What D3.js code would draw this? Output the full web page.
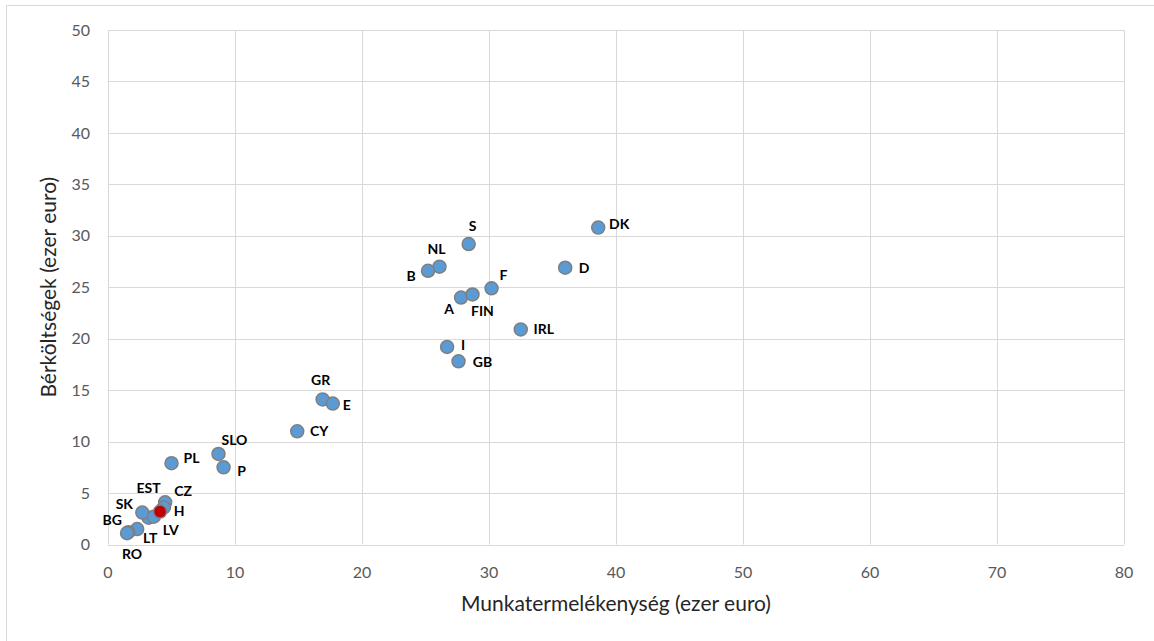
<!DOCTYPE html>
<html>
<head>
<meta charset="utf-8">
<script src="https://cdn.jsdelivr.net/npm/d3@7"></script>
<style>
  body { margin: 0; background: #fff; }
  svg text { font-family: Lato, "Open Sans", sans-serif; }
  .grid line { stroke: #d9d9d9; stroke-width: 1; }
  .tick-label { fill: #595959; font-size: 16px; }
  .axis-title { fill: #262626; font-size: 21px; }
  .pt-label { fill: #000; font-size: 14px; font-weight: bold; }
</style>
</head>
<body>
<div id="chart"></div>
<script>
const width = 1154,
  height = 641,
  margin = { top: 30, bottom: 96.5, left: 108, right: 30 },
  radius = 6.5;

// country codes, labour productivity (x) and labour costs (y), thousand euro
const countries = ["DK", "D", "S", "NL", "B", "F", "A", "FIN", "IRL", "I", "GB",
  "GR", "E", "CY", "SLO", "P", "PL", "CZ", "", "EST", "LV", "SK", "LT", "BG", "RO", "H"];
const productivity = [38.6, 36.0, 28.4, 26.1, 25.2, 30.2, 27.8, 28.7, 32.5, 26.7, 27.6,
  16.9, 17.7, 14.9, 8.7, 9.1, 5.0, 4.5, 4.4, 3.2, 3.6, 2.7, 2.3, 1.6, 1.5, 4.1];
const laborCost = [30.8, 26.9, 29.2, 27.0, 26.6, 24.9, 24.0, 24.3, 20.9, 19.2, 17.8,
  14.1, 13.7, 11.0, 8.8, 7.5, 7.9, 4.1, 3.6, 2.6, 2.7, 3.1, 1.5, 1.2, 1.1, 3.2];
const highlighted = ["H"];

const xTicks = [0, 10, 20, 30, 40, 50, 60, 70, 80];
const yTicks = [0, 5, 10, 15, 20, 25, 30, 35, 40, 45, 50];

// label centre relative to the marker (px)
const labelOffset = {
  DK: [21, -3], D: [19, 0], S: [4, -18], NL: [-3, -18], B: [-17, 5],
  F: [12, -13], A: [-12, 12], FIN: [10, 17], IRL: [23, 0], I: [16, -2], GB: [24, 1],
  GR: [-2, -19], E: [14, 2], CY: [22, 0], SLO: [16, -14], P: [18, 4], PL: [20, -5],
  CZ: [18, -11], EST: [0, -30], LV: [17, 13], SK: [-18, -9], LT: [13, 9],
  BG: [-16, -12], RO: [5, 21], H: [19, 0]
};

const points = countries.map((c, i) => ({
  name: c, x: productivity[i], y: laborCost[i], hi: highlighted.includes(c)
}));

const svg = d3.select("#chart").append("svg")
  .attr("width", width)
  .attr("height", height);

svg.append("rect")
  .attr("x", 6.5).attr("y", 5.5)
  .attr("width", 1160).attr("height", 660)
  .attr("fill", "none")
  .attr("stroke", "#d9d9d9");

const x = d3.scaleLinear().domain([0, 80]).range([margin.left, width - margin.right]);
const y = d3.scaleLinear().domain([0, 50]).range([height - margin.bottom, margin.top]);

// gridlines
const grid = svg.append("g").attr("class", "grid");
grid.selectAll(".vx").data(xTicks).join("line")
  .attr("x1", d => Math.round(x(d)) + 0.5).attr("x2", d => Math.round(x(d)) + 0.5)
  .attr("y1", y(50)).attr("y2", y(0));
grid.selectAll(".hy").data(yTicks).join("line")
  .attr("y1", d => Math.round(y(d)) + 0.5).attr("y2", d => Math.round(y(d)) + 0.5)
  .attr("x1", x(0)).attr("x2", x(80));

// tick labels
svg.append("g").selectAll("text").data(xTicks).join("text")
  .attr("class", "tick-label")
  .attr("x", d => x(d))
  .attr("y", y(0) + 33.5)
  .attr("text-anchor", "middle")
  .text(d => d);

svg.append("g").selectAll("text").data(yTicks).join("text")
  .attr("class", "tick-label")
  .attr("x", x(0) - 18)
  .attr("y", d => y(d))
  .attr("dy", "0.35em")
  .attr("text-anchor", "end")
  .text(d => d);

// axis titles
svg.append("text")
  .attr("class", "axis-title")
  .attr("x", (x(0) + x(80)) / 2)
  .attr("y", y(0) + 66)
  .attr("text-anchor", "middle")
  .text("Munkatermelékenység (ezer euro)");

svg.append("text")
  .attr("class", "axis-title")
  .attr("transform", `translate(56,${(y(0) + y(50)) / 2}) rotate(-90)`)
  .attr("text-anchor", "middle")
  .text("Bérköltségek (ezer euro)");

// markers, highlighted on top
const ordered = points.filter(d => !d.hi).concat(points.filter(d => d.hi));
svg.append("g").selectAll("circle").data(ordered).join("circle")
  .attr("cx", d => x(d.x))
  .attr("cy", d => y(d.y))
  .attr("r", radius)
  .attr("fill", d => d.hi ? "#c00000" : "#5b9bd5")
  .attr("stroke", "#7f7f7f")
  .attr("stroke-width", 1.5);

// labels
svg.append("g").selectAll("text").data(points.filter(d => d.name)).join("text")
  .attr("class", "pt-label")
  .attr("x", d => x(d.x) + labelOffset[d.name][0])
  .attr("y", d => y(d.y) + labelOffset[d.name][1])
  .attr("dy", "0.35em")
  .attr("text-anchor", "middle")
  .text(d => d.name);
</script>
</body>
</html>
